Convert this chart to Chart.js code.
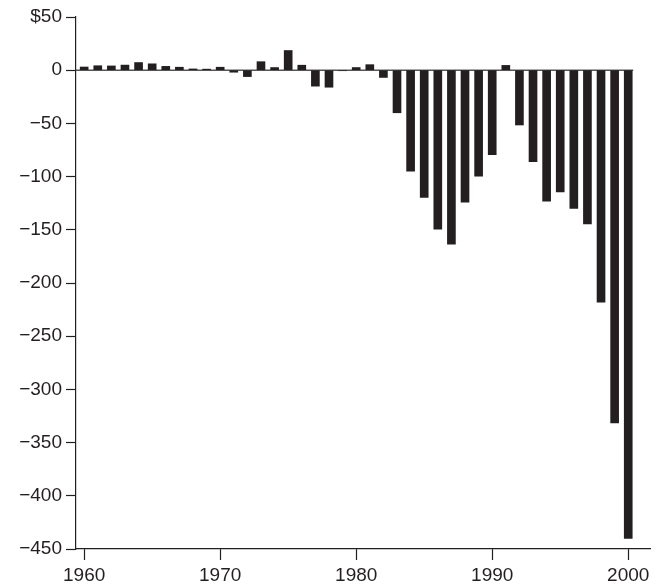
<!DOCTYPE html>
<html>
<head>
<meta charset="utf-8">
<script src="https://cdn.jsdelivr.net/npm/chart.js@4/dist/chart.umd.min.js"></script>
<style>
  html, body { margin: 0; padding: 0; background: #fff; }
  #wrap { width: 662px; height: 585px; }
</style>
</head>
<body>
<div id="wrap"><canvas id="myChart" width="662" height="585"></canvas></div>
<script>
// balance by year, billions of dollars
const years = [
  1960, 1961, 1962, 1963, 1964, 1965, 1966, 1967, 1968, 1969,
  1970, 1971, 1972, 1973, 1974, 1975, 1976, 1977, 1978, 1979,
  1980, 1981, 1982, 1983, 1984, 1985, 1986, 1987, 1988, 1989,
  1990, 1991, 1992, 1993, 1994, 1995, 1996, 1997, 1998, 1999, 2000
];
const balance = [
  3.0, 4.2, 4.0, 4.8, 7.2, 6.0, 3.6, 2.8, 1.2, 1.0,
  2.8, -1.9, -6.0, 8.0, 2.5, 18.5, 4.7, -15.0, -16.0, -0.5,
  2.5, 5.2, -6.8, -40.0, -95.0, -119.5, -149.5, -163.5, -124.0, -99.5,
  -79.5, 4.5, -51.5, -86.0, -123.0, -114.5, -130.0, -144.5, -218.0, -331.5, -440.0
];
const xTicks = [1960, 1970, 1980, 1990, 2000];
const yTicks = [50, 0, -50, -100, -150, -200, -250, -300, -350, -400, -450];

const ink = '#231f20';
const font = { family: '"Liberation Sans", Arial, Helvetica, sans-serif', size: 19 };

// zero line stops just past the last bar
const zeroLine = {
  id: 'zeroLine',
  beforeDatasetsDraw(chart) {
    const { ctx, chartArea, scales } = chart;
    const y0 = scales.y.getPixelForValue(0);
    const xEnd = scales.x.getPixelForValue(years[years.length - 1]) + 5;
    ctx.save();
    ctx.strokeStyle = '#555';
    ctx.lineWidth = 1.5;
    ctx.beginPath();
    ctx.moveTo(chartArea.left, y0);
    ctx.lineTo(xEnd, y0);
    ctx.stroke();
    ctx.restore();
  }
};

const ctx = document.getElementById('myChart').getContext('2d');
new Chart(ctx, {
  type: 'bar',
  data: {
    datasets: [{
      data: years.map((y, i) => ({ x: y, y: balance[i] })),
      backgroundColor: ink,
      borderWidth: 0,
      barThickness: 8
    }]
  },
  plugins: [zeroLine],
  options: {
    responsive: false,
    animation: false,
    devicePixelRatio: 1,
    layout: { padding: { left: 0, right: 12, top: 17, bottom: 0 } },
    plugins: {
      legend: { display: false },
      tooltip: { enabled: false }
    },
    scales: {
      x: {
        type: 'linear',
        offset: false,
        min: 1959.4,
        max: 2001.6,
        afterBuildTicks: s => { s.ticks = xTicks.map(v => ({ value: v })); },
        afterFit: s => { s.height = 36; },
        grid: {
          offset: false,
          drawOnChartArea: false,
          tickLength: 11,
          tickColor: ink,
          tickWidth: 1.2
        },
        border: { color: ink, width: 1.2 },
        ticks: {
          color: ink,
          font: font,
          padding: 4,
          maxRotation: 0,
          callback: v => String(v)
        }
      },
      y: {
        min: -450,
        max: 50,
        afterBuildTicks: s => { s.ticks = yTicks.map(v => ({ value: v })); },
        afterFit: s => { s.width = 76; },
        grid: {
          drawOnChartArea: false,
          tickLength: 10,
          tickColor: ink,
          tickWidth: 1.2
        },
        border: { color: ink, width: 1.2 },
        ticks: {
          color: ink,
          font: font,
          padding: 4,
          callback: v => v === 50 ? '$50' : (v < 0 ? '\u2212' + Math.abs(v) : String(v))
        }
      }
    }
  }
});
</script>
</body>
</html>
